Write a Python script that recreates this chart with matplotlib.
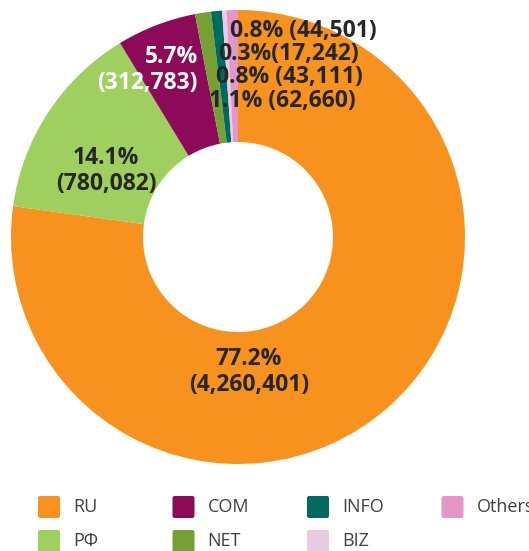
import matplotlib.pyplot as plt
from matplotlib.patches import FancyBboxPatch

# domain zone shares
names = ["RU", "РФ", "COM", "NET", "INFO", "BIZ", "Others"]
counts = [4260401, 780082, 312783, 62660, 43111, 17242, 44501]
pct_labels = ["77.2%", "14.1%", "5.7%", "1.1%", "0.8%", "0.3%", "0.8%"]
colors = ["#F7921E", "#9ECF5F", "#8C0A57", "#76A033", "#006A60", "#E6CDE4", "#E596C6"]

W, H = 529, 551
fig = plt.figure(figsize=(W / 100, H / 100), dpi=100)

# pie centre (238, 237) px, radius 227 px
cx, cy, r = 238, 237, 227
ax = fig.add_axes([(cx - r) / W, (H - cy - r) / H, 2 * r / W, 2 * r / H])
ax.pie(counts, colors=colors, startangle=90, counterclock=False, radius=1,
       wedgeprops=dict(width=1 - 95 / 227, linewidth=0))
ax.set_xlim(-1, 1)
ax.set_ylim(-1, 1)
ax.set_aspect("equal")
ax.axis("off")


def px(x, y):
    return (x - cx) / r, (cy - y) / r


fnt = dict(family="Open Sans", fontweight="bold", fontsize=16.5)
dark = "#262626"

def fmt(i):
    return "{:,}".format(counts[i])

ax.text(*px(249, 372), pct_labels[0] + "\n(" + fmt(0) + ")", ha="center", va="center",
        color=dark, linespacing=1.15, **fnt)
ax.text(*px(106, 171), pct_labels[1] + "\n(" + fmt(1) + ")", ha="center", va="center",
        color=dark, linespacing=1.15, **fnt)
ax.text(*px(198, 70), pct_labels[2] + "\n(" + fmt(2) + ")", ha="right", va="center",
        color="white", linespacing=1.15, multialignment="right", **fnt)

# small slices stacked at the top
small = [(6, 230, 31, " "), (5, 218, 54, ""), (4, 216, 77, " "), (3, 209, 101, " ")]
for i, x, y, sep in small:
    ax.text(*px(x, y), pct_labels[i] + sep + "(" + fmt(i) + ")", ha="left", va="center",
            color=dark, **fnt)

# legend, column-major in 4 columns
for i, (name, col) in enumerate(zip(names, colors)):
    c, row = i // 2, i % 2
    x0 = 38 + 134.5 * c
    y0 = 507 + 34 * row
    fig.patches.append(FancyBboxPatch(((x0) / W, (H - y0 - 11) / H), 22 / W, 22 / H,
                                      boxstyle="round,pad=0,rounding_size=0.004",
                                      transform=fig.transFigure, facecolor=col,
                                      edgecolor="none"))
    fig.text((x0 + 35) / W, (H - y0) / H, name, ha="left", va="center",
             family="Open Sans", fontsize=13, color="#404040")

fig.savefig("out.png", dpi=100)
